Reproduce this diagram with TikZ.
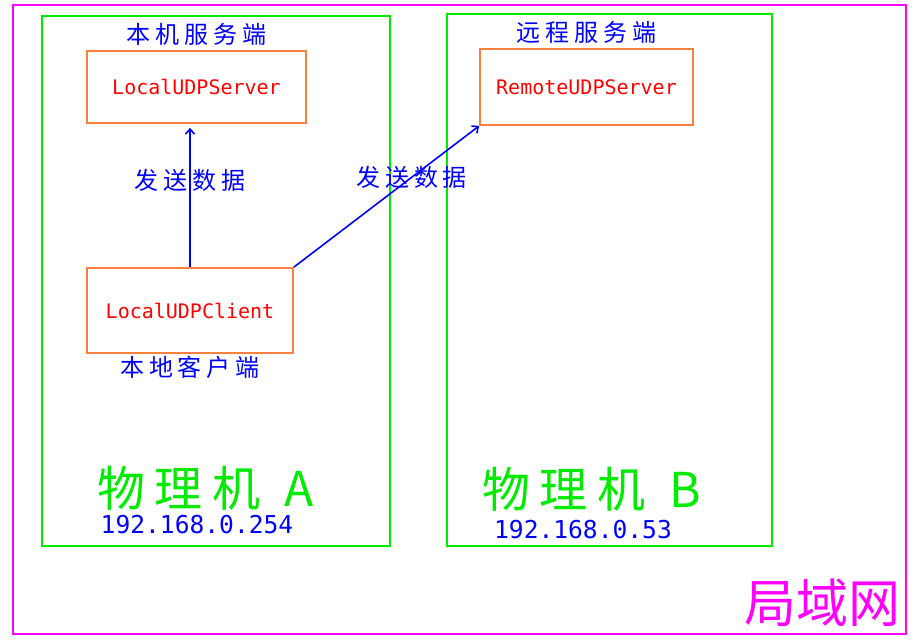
\documentclass[tikz,border=0pt]{standalone}
\usepackage{fontspec}
\usetikzlibrary{positioning, arrows.meta}
\newfontfamily\cjk[LetterSpace=20]{Noto Sans CJK SC}
\newfontfamily\cjkwide{Noto Sans CJK SC}
\newfontfamily\codefont{DejaVu Sans Mono}
\definecolor{lanpink}{RGB}{255,0,255}
\definecolor{hostgreen}{RGB}{0,235,0}
\definecolor{boxorange}{RGB}{250,128,64}
\definecolor{darkred}{RGB}{255,0,0}
\definecolor{darkblue}{RGB}{0,0,255}

\begin{document}
\begin{tikzpicture}[
        x=1pt, y=-1pt,
        lan/.style={rectangle, draw=lanpink, line width=2pt, inner sep=0pt},
        host/.style={rectangle, draw=hostgreen, line width=2pt, inner sep=0pt},
        proc/.style={rectangle, draw=boxorange, line width=1.8pt, inner sep=0pt, text=darkred, font=\codefont\fontsize{20}{22}\selectfont},
        role/.style={text=darkblue, inner sep=0pt, font=\cjk\fontsize{24}{26}\selectfont},
        hname/.style={text=hostgreen, inner sep=0pt, font=\cjk\fontsize{48}{52}\selectfont},
        ip/.style={text=darkblue, inner sep=0pt, font=\codefont\fontsize{24.6}{27}\selectfont},
        arrow/.style={-{Straight Barb[length=5pt, width=9pt]}, darkblue, line width=1.6pt},
    ]
    \useasboundingbox (0,0) rectangle (919,643);

    % ===== LAN and the two hosts =====
    \node[lan, minimum width=893pt, minimum height=629pt] (LAN) at (459.5,319.5) {};
    \node[host, minimum width=348pt, minimum height=530pt] (HA) at (216,281) {};
    \node[host, minimum width=325pt, minimum height=532pt] (HB) at (609.5,280) {};

    % ===== Processes =====
    \node[proc, minimum width=219pt, minimum height=72pt] (S1) at (196.5,87) {LocalUDPServer};
    \node[proc, minimum width=206pt, minimum height=85pt] (C1) at (190,310.5) {LocalUDPClient};
    \node[proc, minimum width=213pt, minimum height=76pt] (S2) at (586.5,87) {RemoteUDPServer};

    \node[role, above=4pt of S1] (L1) {本机服务端};
    \node[role, above=4pt of S2] (L2) {远程服务端};
    \node[role, below=2pt of C1] (L3) {本地客户端};

    % ===== Data flow =====
    \draw[arrow, shorten >=4pt] (C1.north) -- (C1.north |- S1.south)
        node[role, pos=0.607] {发送数据};
    \draw[arrow] (C1.north east) -- (S2.south west)
        node[role, pos=0.636] {发送数据};

    % ===== Host names and addresses =====
    \node[hname] (NA) at (205.5,488) {物理机\enspace A};
    \node[ip] (IPA) at (197,525) {192.168.0.254};
    \node[hname] (NB) at (591.5,489) {物理机\enspace B};
    \node[ip] (IPB) at (583,530) {192.168.0.53};

    \node[text=lanpink, inner sep=0pt, font=\cjkwide\fontsize{52}{56}\selectfont] (LN) at (822,603) {局域网};

    \end{tikzpicture}
\end{document}
